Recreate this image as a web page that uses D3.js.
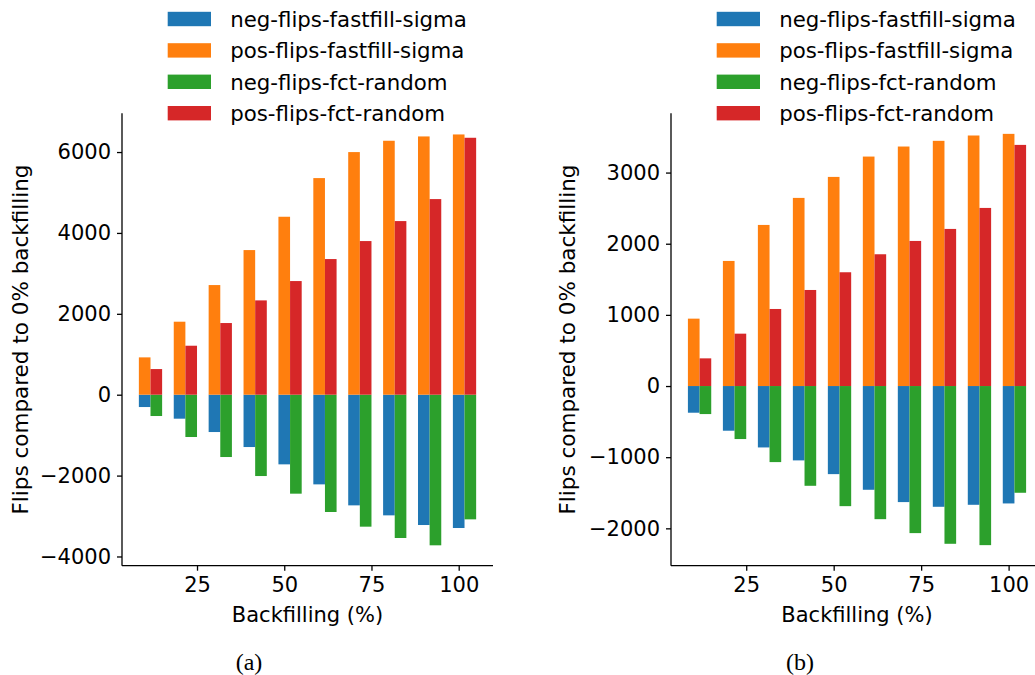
<!DOCTYPE html>
<html>
<head>
<meta charset="utf-8">
<script src="https://cdn.jsdelivr.net/npm/d3@7"></script>
<style>
  html, body { margin: 0; padding: 0; background: #fff; }
  svg { display: block; }
  text { font-family: "DejaVu Sans", sans-serif; fill: #000; }
  .caption { font-family: "Liberation Serif", "Times New Roman", serif; }
</style>
</head>
<body>
<svg id="chart" width="1035" height="675"></svg>
<script>
// Backfilling percentages shared by both panels
const backfill = [10, 20, 30, 40, 50, 60, 70, 80, 90, 100];

const seriesNames = [
  "neg-flips-fastfill-sigma",
  "pos-flips-fastfill-sigma",
  "neg-flips-fct-random",
  "pos-flips-fct-random"
];
const seriesColors = ["#1f77b4", "#ff7f0e", "#2ca02c", "#d62728"];

// Panel (a)
const aNegFastfill = [-305, -593, -923, -1294, -1722, -2217, -2736, -2983, -3222, -3296];
const aPosFastfill = [923, 1805, 2711, 3576, 4400, 5356, 5999, 6279, 6386, 6435];
const aNegFct      = [-527, -1046, -1541, -2011, -2447, -2900, -3263, -3543, -3724, -3082];
const aPosFct      = [634, 1211, 1772, 2332, 2810, 3354, 3799, 4293, 4837, 6353];

// Panel (b)
const bNegFastfill = [-375, -628, -863, -1045, -1238, -1458, -1631, -1697, -1669, -1650];
const bPosFastfill = [947, 1758, 2264, 2644, 2939, 3225, 3366, 3446, 3521, 3544];
const bNegFct      = [-394, -745, -1069, -1402, -1688, -1871, -2067, -2217, -2236, -1500];
const bPosFct      = [389, 736, 1083, 1350, 1599, 1852, 2039, 2208, 2503, 3389];

const xTicks = [25, 50, 75, 100];
const aYTicks = [-4000, -2000, 0, 2000, 4000, 6000];
const bYTicks = [-2000, -1000, 0, 1000, 2000, 3000];

const yLabel = "Flips compared to 0% backfilling";
const xLabel = "Backfilling (%)";

const svg = d3.select("#chart");
const barWidth = 10 / 3;
const fmt = v => (v < 0 ? "\u2212" + Math.abs(v) : String(v));

function drawPanel(cfg) {
  const g = svg.append("g");
  const x = d3.scaleLinear().domain([3.5, 109.83]).range([cfg.left, cfg.right]);
  const y = d3.scaleLinear().domain(cfg.yDomain).range([cfg.bottom, cfg.top]);
  const w = x(barWidth) - x(0);

  // fastfill-sigma bars sit on the tick, fct-random bars one bar-width to the right
  const groups = [
    { vals: cfg.series[0], color: seriesColors[0], off: 0 },
    { vals: cfg.series[1], color: seriesColors[1], off: 0 },
    { vals: cfg.series[2], color: seriesColors[2], off: 1 },
    { vals: cfg.series[3], color: seriesColors[3], off: 1 }
  ];
  groups.forEach(s => {
    g.append("g").selectAll("rect")
      .data(backfill.map((b, i) => ({ b, v: s.vals[i] })))
      .join("rect")
      .attr("x", d => x(d.b + s.off * barWidth) - w / 2)
      .attr("width", w)
      .attr("y", d => y(Math.max(0, d.v)))
      .attr("height", d => Math.abs(y(d.v) - y(0)))
      .attr("fill", s.color);
  });

  // axes
  const xAxis = d3.axisBottom(x).tickValues(xTicks).tickSize(5).tickPadding(6).tickFormat(d3.format("d"));
  const yAxis = d3.axisLeft(y).tickValues(cfg.yTicks).tickSize(5).tickPadding(6).tickFormat(fmt);

  const gx = g.append("g").attr("transform", `translate(0,${cfg.bottom})`).call(xAxis);
  const gy = g.append("g").attr("transform", `translate(${cfg.left},0)`).call(yAxis);
  [gx, gy].forEach(a => {
    a.selectAll("path.domain").attr("stroke", "#000").attr("stroke-width", 1.3);
    a.selectAll(".tick line").attr("stroke", "#000").attr("stroke-width", 1.3);
    a.selectAll(".tick text").attr("font-size", 21).attr("font-family", "DejaVu Sans");
  });
  gx.select("path.domain").attr("d", `M${cfg.left},0H${cfg.right}`);
  gy.select("path.domain").attr("d", `M0,${cfg.bottom}V${cfg.top}`);

  g.append("text")
    .attr("x", (cfg.left + cfg.right) / 2 + cfg.xLabelShift)
    .attr("y", 621.5)
    .attr("text-anchor", "middle")
    .attr("font-size", 21)
    .text(xLabel);

  g.append("text")
    .attr("transform", `translate(${cfg.yLabelX},${(cfg.top + cfg.bottom) / 2}) rotate(-90)`)
    .attr("text-anchor", "middle")
    .attr("font-size", 21.5)
    .text(yLabel);

  // legend
  const lg = g.append("g");
  seriesNames.forEach((name, i) => {
    const cy = 19 + i * 31.4;
    lg.append("rect")
      .attr("x", cfg.legendX).attr("y", cy - 7.2)
      .attr("width", 43.3).attr("height", 14.4)
      .attr("fill", seriesColors[i]);
    lg.append("text")
      .attr("x", cfg.legendX + 62.5).attr("y", cy + 7.8)
      .attr("font-size", 21.3)
      .text(name);
  });

  svg.append("text")
    .attr("class", "caption")
    .attr("x", cfg.captionX).attr("y", 670)
    .attr("text-anchor", "middle")
    .attr("font-size", 24)
    .text(cfg.caption);
}

drawPanel({
  left: 122, right: 493, top: 113.3, bottom: 565.7,
  yDomain: [-4228, 6958], yTicks: aYTicks,
  series: [aNegFastfill, aPosFastfill, aNegFct, aPosFct],
  yLabelX: 27.5, xLabelShift: 0, legendX: 167.7,
  caption: "(a)", captionX: 249
});

drawPanel({
  left: 671, right: 1043, top: 113.3, bottom: 565.7,
  yDomain: [-2525, 3833], yTicks: bYTicks,
  series: [bNegFastfill, bPosFastfill, bNegFct, bPosFct],
  yLabelX: 575, xLabelShift: 0, legendX: 716.7,
  caption: "(b)", captionX: 800
});
</script>
</body>
</html>
